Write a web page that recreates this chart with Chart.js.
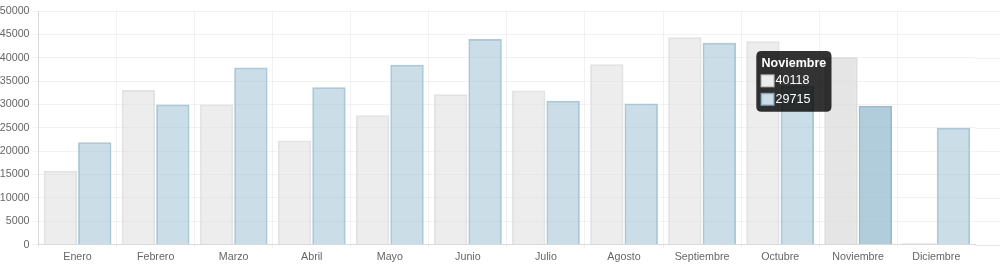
<!DOCTYPE html>
<html>
<head>
<meta charset="utf-8">
<script src="https://cdn.jsdelivr.net/npm/chart.js@4"></script>
<style>
html,body{margin:0;padding:0;background:#fff;}
#wrap{width:1000px;height:266px;}
</style>
</head>
<body>
<div id="wrap"><canvas id="c" width="1000" height="266"></canvas></div>
<script>
const categories = ["Enero","Febrero","Marzo","Abril","Mayo","Junio","Julio","Agosto","Septiembre","Octubre","Noviembre","Diciembre"];
const serieGris = [15800, 33100, 30000, 22300, 27700, 32200, 33000, 38600, 44400, 43500, 40118, 0];
const serieAzul = [21900, 30000, 37900, 33700, 38500, 44000, 30800, 30200, 43200, 34000, 29715, 25000];
const yTicks = [0, 5000, 10000, 15000, 20000, 25000, 30000, 35000, 40000, 45000, 50000];
const activeIndex = 10;

const FONT = "'Liberation Sans', Arial, Helvetica, sans-serif";

Chart.Tooltip.positioners.multi = function(elements) {
  if (!elements.length) return false;
  const xs = elements.map(e => e.element.x);
  const ys = elements.map(e => e.element.y);
  return {
    x: (Math.min(...xs) + Math.max(...xs)) / 2 - 26.7,
    y: (Math.min(...ys) + Math.max(...ys)) / 2
  };
};

const extendGrid = {
  id: 'extendGrid',
  beforeDatasetsDraw(chart) {
    const ctx = chart.ctx, y = chart.scales.y, a = chart.chartArea;
    ctx.save();
    ctx.lineWidth = 1;
    y.ticks.forEach((t, i) => {
      const py = Math.round(y.getPixelForTick(i)) + 0.5;
      ctx.strokeStyle = i === 0 ? 'rgba(0,0,0,0.1)' : 'rgba(0,0,0,0.05)';
      ctx.beginPath();
      ctx.moveTo(a.right, py);
      ctx.lineTo(chart.width, py);
      ctx.stroke();
    });
    ctx.restore();
  }
};

const chart = new Chart(document.getElementById('c'), {
  type: 'bar',
  data: {
    labels: categories,
    datasets: [
      {
        data: serieGris,
        backgroundColor: 'rgba(220,220,220,0.5)',
        borderColor: 'rgba(220,220,220,0.8)',
        hoverBackgroundColor: 'rgba(220,220,220,0.75)',
        hoverBorderColor: 'rgba(220,220,220,1)',
        borderWidth: 2,
        minBarLength: 1.5,
        categoryPercentage: 0.882,
        barPercentage: 0.97
      },
      {
        data: serieAzul,
        backgroundColor: 'rgba(151,187,205,0.5)',
        borderColor: 'rgba(151,187,205,0.8)',
        hoverBackgroundColor: 'rgba(151,187,205,0.75)',
        hoverBorderColor: 'rgba(151,187,205,1)',
        borderWidth: 2,
        categoryPercentage: 0.882,
        barPercentage: 0.97
      }
    ]
  },
  options: {
    responsive: false,
    devicePixelRatio: 1,
    animation: false,
    layout: { padding: { left: -3.2, top: 11, right: 24.7, bottom: 0 } },
    interaction: { mode: 'index', intersect: false },
    events: [],
    plugins: {
      legend: { display: false },
      tooltip: {
        enabled: true,
        mode: 'index',
        position: 'multi',
        xAlign: 'right',
        yAlign: 'center',
        caretSize: 0,
        caretPadding: 0,
        backgroundColor: 'rgba(0,0,0,0.8)',
        cornerRadius: 5.3,
        padding: 5.3,
        titleFont: { family: FONT, size: 12.5, weight: 'bold', lineHeight: 1.1 },
        bodyFont: { family: FONT, size: 12.5, lineHeight: 1.15 },
        titleColor: '#fff',
        bodyColor: '#fff',
        titleMarginBottom: 3.5,
        bodySpacing: 4.1,
        boxWidth: 12,
        boxHeight: 11,
        boxPadding: 0,
        multiKeyBackground: '#fff',
        displayColors: true,
        callbacks: {
          title: items => items.length ? items[0].label : '',
          label: c => String(c.raw)
        }
      }
    },
    scales: {
      x: {
        grid: {
          color: c => (c.index === undefined || c.index >= categories.length ? 'rgba(0,0,0,0)' : 'rgba(0,0,0,0.05)'),
          tickLength: 4,
          offset: true
        },
        border: { color: 'rgba(0,0,0,0.1)' },
        ticks: { color: '#666', font: { family: FONT, size: 10.7 }, padding: 2.3, maxRotation: 0, autoSkip: false }
      },
      y: {
        min: yTicks[0],
        max: yTicks[yTicks.length - 1],
        afterBuildTicks: s => { s.ticks = yTicks.map(v => ({ value: v })); },
        grid: { color: 'rgba(0,0,0,0.05)', tickLength: 6 },
        border: { color: 'rgba(0,0,0,0.1)' },
        ticks: { color: '#666', font: { family: FONT, size: 10.7 }, padding: 3, callback: v => String(v) }
      }
    }
  },
  plugins: [extendGrid]
});

const act = [{ datasetIndex: 0, index: activeIndex }, { datasetIndex: 1, index: activeIndex }];
chart.setActiveElements(act);
chart.tooltip.setActiveElements(act, { x: 0, y: 0 });
chart.update();
</script>
</body>
</html>
